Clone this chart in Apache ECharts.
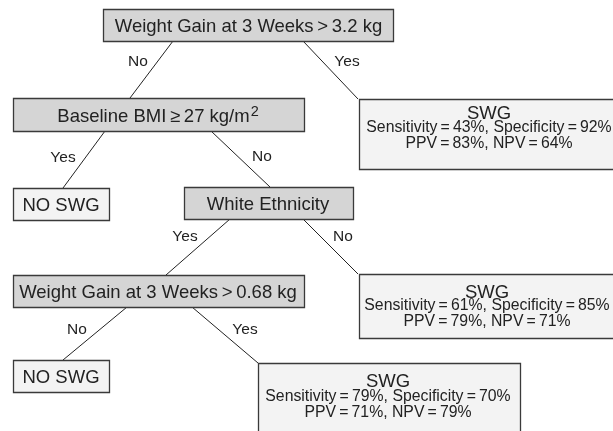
<!DOCTYPE html>
<html><head><meta charset="utf-8">
<script src="https://cdn.jsdelivr.net/npm/echarts@6/dist/echarts.min.js"></script>
<style>html,body{margin:0;padding:0;background:#fff}#c{width:613px;height:431px}</style>
</head><body><div id="c"></div>
<script>
// ---- data ----
const nodeTitles = [
  'Weight Gain at 3 Weeks\u2009>\u20093.2 kg',
  'Baseline BMI\u2009\u2265\u200927 kg/m',
  'NO SWG',
  'White Ethnicity',
  'SWG',
  'SWG',
  'Weight Gain at 3 Weeks\u2009>\u20090.68 kg',
  'NO SWG',
  'SWG'
];
const nodeTitleSup = [null, '2', null, null, null, null, null, null, null];
const nodeKinds   = ['split','split','leaf','split','leaf','leaf','split','leaf','leaf'];
const sensitivity = [null, null, null, null, 43, 61, null, null, 79];
const specificity = [null, null, null, null, 92, 85, null, null, 70];
const ppv         = [null, null, null, null, 83, 79, null, null, 71];
const npv         = [null, null, null, null, 64, 71, null, null, 79];
const edgeFrom    = [0, 0, 1, 1, 3, 3, 6, 6];
const edgeTo      = [1, 4, 2, 3, 6, 5, 7, 8];
const edgeLabels  = ['No', 'Yes', 'Yes', 'No', 'Yes', 'No', 'No', 'Yes'];

// ---- layout (diagram space, px) ----
const boxLayout = [
  [103, 9, 393, 41],
  [13, 98, 304, 131],
  [13, 188, 109, 220],
  [184, 187, 353, 219],
  [359, 99, 622, 169],
  [359, 274, 622, 338],
  [13, 275, 304, 307],
  [13, 360, 109, 392],
  [258, 363, 520, 445]
];
// [centerX, titleY, line1Y, line2Y]
const textLayout = [
  [248.5, 25], [158, 115], [61, 204], [268, 203.5],
  [489, 112.5, 128, 144], [487, 291, 306, 322],
  [158, 291.5], [61, 376.5],
  [388, 380, 396.5, 412.5]
];
const edgeStartX = [173, 303, 105, 211, 230, 303, 127, 192];
const edgeEndX   = [130, 358, 63, 270, 166, 358, 63, 258];
const edgeLabelPos = [[138, 62], [347, 62], [63, 158], [262, 157], [185, 237], [343, 237], [77, 330], [245, 330]];

const FONT = "'Liberation Sans', Arial, Helvetica, sans-serif";
const chart = echarts.init(document.getElementById('c'), null, {renderer: 'canvas'});

function renderEdge(params, api) {
  const k = params.dataIndex;
  const a = api.coord([edgeStartX[k], boxLayout[edgeFrom[k]][3]]);
  const b = api.coord([edgeEndX[k], boxLayout[edgeTo[k]][1]]);
  const l = api.coord(edgeLabelPos[k]);
  return {type: 'group', children: [
    {type: 'line', shape: {x1: a[0], y1: a[1], x2: b[0], y2: b[1]}, style: {stroke: '#222', lineWidth: 1}},
    {type: 'text', x: l[0], y: l[1], style: {text: edgeLabels[k], font: '15.5px ' + FONT, fill: '#222', align: 'center', verticalAlign: 'middle'}}
  ]};
}

function renderNode(params, api) {
  const i = params.dataIndex;
  const b = boxLayout[i];
  const p1 = api.coord([b[0], b[1]]), p2 = api.coord([b[2], b[3]]);
  const t = textLayout[i];
  const children = [{
    type: 'rect',
    shape: {x: Math.round(p1[0]) + 0.5, y: Math.round(p1[1]) + 0.5, width: Math.round(p2[0] - p1[0]), height: Math.round(p2[1] - p1[1])},
    style: {fill: nodeKinds[i] === 'split' ? '#d5d5d5' : '#f3f3f3', stroke: '#3a3a3a', lineWidth: 1.3}
  }];
  const tp = api.coord([t[0], t[1]]);
  let rt = '{m|' + nodeTitles[i] + '}';
  if (nodeTitleSup[i]) rt += '{sup|' + nodeTitleSup[i] + '}';
  children.push({type: 'text', x: tp[0], y: tp[1], style: {
    text: rt,
    align: 'center', verticalAlign: 'middle', fill: '#222',
    rich: {
      m: {font: '18.5px ' + FONT, fill: '#222', lineHeight: 22, verticalAlign: 'bottom'},
      sup: {font: '14.5px ' + FONT, fill: '#222', lineHeight: 22, verticalAlign: 'top', padding: [0, 0, 2, 1]}
    }
  }});
  if (sensitivity[i] != null) {
    const l1 = api.coord([t[0], t[2]]), l2 = api.coord([t[0], t[3]]);
    children.push({type: 'text', x: l1[0], y: l1[1], style: {
      text: 'Sensitivity\u2009=\u2009' + sensitivity[i] + '%, Specificity\u2009=\u2009' + specificity[i] + '%',
      font: '15.8px ' + FONT, fill: '#222', align: 'center', verticalAlign: 'middle'}});
    children.push({type: 'text', x: l2[0], y: l2[1], style: {
      text: 'PPV\u2009=\u2009' + ppv[i] + '%, NPV\u2009=\u2009' + npv[i] + '%',
      font: '15.8px ' + FONT, fill: '#222', align: 'center', verticalAlign: 'middle'}});
  }
  return {type: 'group', children: children};
}

chart.setOption({
  animation: false,
  grid: {left: 0, right: 0, top: 0, bottom: 0},
  xAxis: {type: 'value', min: 0, max: 613, show: false},
  yAxis: {type: 'value', min: 0, max: 431, inverse: true, show: false},
  series: [
    {type: 'custom', coordinateSystem: 'cartesian2d', renderItem: renderEdge,
     data: edgeLabels.map((_, k) => [edgeStartX[k], k]), z: 1},
    {type: 'custom', coordinateSystem: 'cartesian2d', renderItem: renderNode,
     data: nodeTitles.map((_, i) => [i, i]), z: 2}
  ]
});
</script></body></html>
